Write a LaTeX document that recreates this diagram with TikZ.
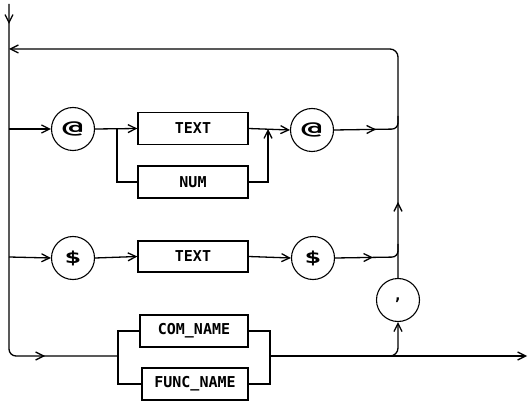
\documentclass[tikz,border=0pt]{standalone}
\usepackage{fontspec}
\usepackage{graphicx}
\newfontfamily\diagfont{DejaVu Sans Mono}
\usetikzlibrary{arrows.meta,decorations.markings}
\tikzset{
  tip/.tip={Straight Barb[length=8pt,width=8pt,line width=1.3pt]},
  lbl/.style={font=\diagfont\bfseries\fontsize{15}{15}\selectfont},
  termbox/.style={draw,line width=1.3pt,minimum height=32pt,inner sep=0pt,lbl},
  circ/.style={draw,circle,line width=1.1pt,minimum size=43pt,inner sep=0pt,lbl},
  conn/.style={line width=1.3pt},
  arrowat/.style={postaction={decorate,decoration={markings,mark=at position #1 with {\arrow{tip}}}}}
}
\begin{document}
\begin{tikzpicture}[x=1pt,y=-1pt]
\useasboundingbox (0,0) rectangle (528,401);
% coordinates
\coordinate (top) at (9,4);
\coordinate (j0) at (9,49);
\coordinate (j1) at (9,129);
\coordinate (j2) at (9,257);
\coordinate (bl) at (9,356);
\coordinate (b3) at (118,356);
\coordinate (b1) at (117,129);
\coordinate (m1) at (268,129);
\coordinate (fj) at (270,356);
\coordinate (cb) at (386,356);
\coordinate (endp) at (527,356);
\coordinate (rtop) at (398,49);
\coordinate (r1) at (398,129);
\coordinate (r1u) at (398,116);
\coordinate (r2) at (398,257);
\coordinate (r2u) at (398,244);
\coordinate (cbr) at (398,356);
% nodes
\node[circ] (at1) at (73,129) {\scalebox{2.3}[1.15]{@}};
\node[circ] (at2) at (312,130) {\scalebox{2.3}[1.15]{@}};
\node[termbox,minimum width=110pt] (text1) at (193,128.5) {TEXT};
\node[termbox,minimum width=110pt] (num) at (193,182) {NUM};
\node[circ] (dl1) at (73,258) {\scalebox{1.9}[1.1]{\$}};
\node[termbox,minimum width=110pt,minimum height=31pt] (text2) at (193,256.5) {TEXT};
\node[circ] (dl2) at (313,258) {\scalebox{1.9}[1.1]{\$}};
\node[termbox,minimum width=108pt] (com) at (194,331) {COM\_NAME};
\node[termbox,minimum width=106pt] (func) at (195,384) {FUNC\_NAME};
\node[circ] (comma) at (398,300) {,};
% trunk
\draw[conn,rounded corners=7pt,arrowat=20pt,arrowat=385pt] (top) -- (bl) -- (b3);
\draw[conn] (b3) |- (com.west);
\draw[conn] (b3) |- (func.west);
\draw[conn] (com.east) -| (fj);
\draw[conn] (func.east) -| (fj);
\draw[conn,-tip] (fj) -- (endp);
\draw[conn,-tip,rounded corners=8pt] (cb) -- (cbr) -- (comma.south);
% feedback loop
\draw[conn,-tip,rounded corners=8pt,arrowat=76pt] (comma.north) -- (rtop) -- (j0);
% row 1
\draw[conn,-tip] (j1) -- (at1.west);
\draw[conn,-tip] (at1.east) -- (text1.west);
\draw[conn] (b1) |- (num.west);
\draw[conn,-tip] (text1.east) -- (at2.west);
\draw[conn,-tip] (num.east) -| (m1);
\draw[conn,rounded corners=6pt,arrowat=42pt] (at2.east) -- (r1) -- (r1u);
% row 2
\draw[conn,-tip] (j2) -- (dl1.west);
\draw[conn,-tip] (dl1.east) -- (text2.west);
\draw[conn,-tip] (text2.east) -- (dl2.west);
\draw[conn,rounded corners=6pt,arrowat=38pt] (dl2.east) -- (r2) -- (r2u);
\end{tikzpicture}
\end{document}
